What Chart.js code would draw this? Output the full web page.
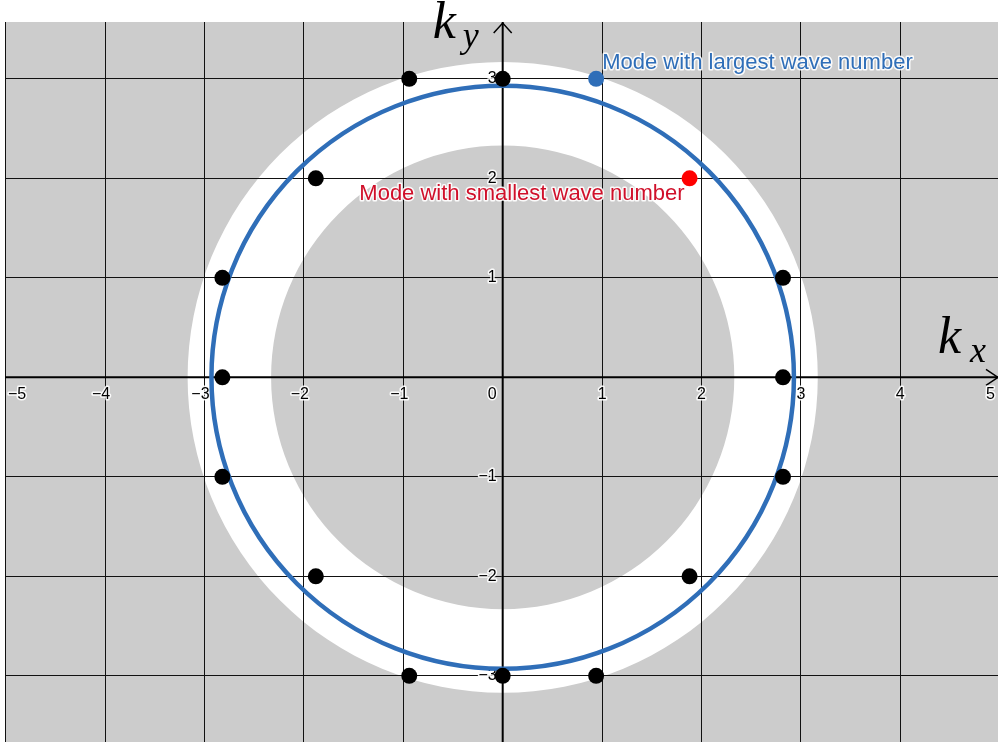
<!DOCTYPE html>
<html>
<head>
<meta charset="utf-8">
<script src="https://cdn.jsdelivr.net/npm/chart.js@4.4.1/dist/chart.umd.min.js"></script>
<style>
  html, body { margin: 0; padding: 0; background: #fff; }
  #wrap { width: 998px; height: 742px; }
</style>
</head>
<body>
<div id="wrap"><canvas id="modes" width="998" height="742"></canvas></div>
<script>
// wave vector modes (k_x, k_y)
const kxModes = [-0.94, 0, -1.88, -2.82, -2.82, -2.82, -1.88, -0.94, 0, 0.94, 1.88, 2.82, 2.82, 2.82];
const kyModes = [3, 3, 2, 1, 0, -1, -2, -3, -3, -3, -2, -1, 0, 1];
const kxLargest = [0.94];
const kyLargest = [3];
const kxSmallest = [1.88];
const kySmallest = [2];

const circleRadius = 2.93;
const bandInner = 2.33;
const bandOuter = 3.17;

const xTickLabels = [-5, -4, -3, -2, -1, 0, 1, 2, 3, 4, 5];
const yTickLabels = [-3, -2, -1, 1, 2, 3];

const toPoints = (xs, ys) => xs.map((x, i) => ({ x: x, y: ys[i] }));
const fmt = v => String(v).replace('-', '\u2212');

const GRAY = '#cccccc';
const BLUE = '#2f6eb8';
const RED = '#ff0000';
const LABEL_RED = '#d0102a';

function haloText(ctx, txt, x, y, color, width) {
  ctx.lineJoin = 'round';
  ctx.lineWidth = width;
  ctx.strokeStyle = 'rgba(255,255,255,0.9)';
  ctx.strokeText(txt, x, y);
  ctx.fillStyle = color;
  ctx.fillText(txt, x, y);
}

const backdrop = {
  id: 'backdrop',
  beforeDraw(chart) {
    const { ctx, chartArea: a, scales: { x, y } } = chart;
    ctx.save();
    ctx.fillStyle = '#fff';
    ctx.fillRect(0, 0, chart.width, chart.height);
    ctx.fillStyle = GRAY;
    ctx.fillRect(a.left, a.top, a.right - a.left, a.bottom - a.top);
    ctx.beginPath();
    ctx.rect(a.left, a.top, a.right - a.left, a.bottom - a.top);
    ctx.clip();
    const cx = x.getPixelForValue(0), cy = y.getPixelForValue(0);
    const rxo = x.getPixelForValue(bandOuter) - cx, ryo = cy - y.getPixelForValue(bandOuter);
    const rxi = x.getPixelForValue(bandInner) - cx, ryi = cy - y.getPixelForValue(bandInner);
    ctx.beginPath();
    ctx.ellipse(cx, cy, rxo, ryo, 0, 0, Math.PI * 2);
    ctx.ellipse(cx, cy, rxi, ryi, 0, 0, Math.PI * 2, true);
    ctx.fillStyle = '#fff';
    ctx.fill('evenodd');
    ctx.restore();
  },
  beforeDatasetsDraw(chart) {
    const { ctx, chartArea: a, scales: { x, y } } = chart;
    const cx = x.getPixelForValue(0), cy = y.getPixelForValue(0);
    ctx.save();
    // axes
    ctx.strokeStyle = '#000';
    ctx.lineWidth = 2;
    ctx.beginPath();
    ctx.moveTo(a.left, cy); ctx.lineTo(a.right, cy);
    ctx.moveTo(cx, a.top); ctx.lineTo(cx, a.bottom);
    ctx.stroke();
    ctx.lineWidth = 1.5;
    ctx.beginPath();
    ctx.moveTo(cx - 9, a.top + 11); ctx.lineTo(cx, a.top + 1); ctx.lineTo(cx + 9, a.top + 11);
    ctx.moveTo(a.right - 12, cy - 8); ctx.lineTo(a.right, cy); ctx.lineTo(a.right - 12, cy + 8);
    ctx.stroke();

    // tick labels
    ctx.font = '16px "Liberation Sans", Arial, sans-serif';
    ctx.textBaseline = 'alphabetic';
    xTickLabels.forEach(v => {
      const txt = fmt(v);
      const w = ctx.measureText(txt).width;
      if (v === 0) {
        ctx.textAlign = 'right';
        haloText(ctx, txt, cx - 6, cy + 22, '#000', 3);
        return;
      }
      let px = x.getPixelForValue(v) - (v < 0 ? 4 : 0);
      px = Math.max(a.left + w / 2 + 3, Math.min(a.right - w / 2 - 3, px));
      ctx.textAlign = 'center';
      haloText(ctx, txt, px, cy + 22, '#000', 3);
    });
    ctx.textAlign = 'right';
    ctx.textBaseline = 'middle';
    yTickLabels.forEach(v => {
      haloText(ctx, fmt(v), cx - 6, y.getPixelForValue(v), '#000', 3);
    });

    // circle
    const rx = x.getPixelForValue(circleRadius) - cx, ry = cy - y.getPixelForValue(circleRadius);
    ctx.beginPath();
    ctx.ellipse(cx, cy, rx, ry, 0, 0, Math.PI * 2);
    ctx.strokeStyle = BLUE;
    ctx.lineWidth = 4.5;
    ctx.stroke();
    ctx.restore();
  },
  afterDatasetsDraw(chart) {
    const { ctx, scales: { x, y } } = chart;
    ctx.save();
    ctx.font = '22px "Liberation Sans", Arial, sans-serif';
    ctx.textBaseline = 'alphabetic';
    ctx.textAlign = 'left';
    haloText(ctx, 'Mode with largest wave number', x.getPixelForValue(kxLargest[0]) + 6, y.getPixelForValue(kyLargest[0]) - 10, BLUE, 3);
    ctx.textAlign = 'right';
    haloText(ctx, 'Mode with smallest wave number', x.getPixelForValue(kxSmallest[0]) - 5, y.getPixelForValue(kySmallest[0]) + 22, LABEL_RED, 3);

    // axis names
    const cx = x.getPixelForValue(0), cy = y.getPixelForValue(0);
    ctx.fillStyle = '#000';
    ctx.textAlign = 'left';
    ctx.font = 'italic 52px "Liberation Serif", "DejaVu Serif", serif';
    ctx.fillText('k', cx - 70, 38);
    ctx.fillText('k', chart.chartArea.right - 60, cy - 24);
    ctx.font = 'italic 36px "Liberation Serif", "DejaVu Serif", serif';
    ctx.fillText('y', cx - 40, 47);
    ctx.fillText('x', chart.chartArea.right - 28, cy - 15);
    ctx.restore();
  }
};

new Chart(document.getElementById('modes'), {
  type: 'scatter',
  data: {
    datasets: [{
      label: 'modes',
      data: toPoints(kxModes, kyModes),
      backgroundColor: '#000',
      borderWidth: 0,
      pointRadius: 8
    }, {
      label: 'largest',
      data: toPoints(kxLargest, kyLargest),
      backgroundColor: BLUE,
      borderWidth: 0,
      pointRadius: 8
    }, {
      label: 'smallest',
      data: toPoints(kxSmallest, kySmallest),
      backgroundColor: RED,
      borderWidth: 0,
      pointRadius: 8
    }]
  },
  options: {
    responsive: false,
    animation: false,
    layout: { autoPadding: false, padding: { left: 5, top: 22, right: 0, bottom: 0 } },
    plugins: { legend: { display: false }, tooltip: { enabled: false } },
    scales: {
      x: {
        type: 'linear',
        min: -5.007,
        max: 4.983,
        ticks: { display: false, stepSize: 1, includeBounds: false },
        grid: { color: '#111', lineWidth: 1, drawTicks: false },
        border: { display: false }
      },
      y: {
        type: 'linear',
        min: -3.665,
        max: 3.571,
        ticks: { display: false, stepSize: 1, includeBounds: false },
        grid: { color: '#111', lineWidth: 1, drawTicks: false },
        border: { display: false }
      }
    }
  },
  plugins: [backdrop]
});
</script>
</body>
</html>
